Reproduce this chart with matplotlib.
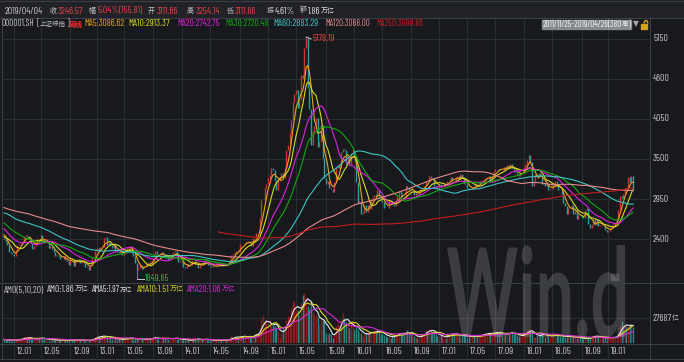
import numpy as np
import pandas as pd
import matplotlib
matplotlib.use("Agg")
import matplotlib.pyplot as plt
from matplotlib.textpath import TextPath
from matplotlib.patches import PathPatch, Rectangle, Arc
from matplotlib.font_manager import FontProperties
from matplotlib.transforms import Affine2D

plt.rcParams["font.family"] = ["Barlow Condensed", "Archivo Narrow", "Noto Sans CJK SC", "DejaVu Sans"]

# weekly closes of 000001.SH before the shown window (only used for the long MAs)
close_pre = [3372, 3412, 3260, 3112, 2960, 2860, 2860, 2999, 3060, 2880, 2779, 2911,
             2977, 3039, 2996, 3164, 3187, 3308, 3096, 3321, 3247, 3114, 3154, 3277,
             3196, 3224, 3128, 2989, 2939, 3018, 3051, 3031, 3013, 3068, 3060, 3155,
             3130, 3130, 3030, 2870, 2688, 2697, 2583, 2656, 2554, 2570, 2514, 2552,
             2382, 2470, 2424, 2572, 2637, 2672, 2607, 2642, 2610, 2655, 2689, 2598,
             2585, 2656, 2738, 2971, 3052, 3054, 3129, 2985, 2888, 2871, 2842, 2835,
             2891, 2835, 2808,
             2839, 2791, 2715, 2752, 2799, 2827, 2899, 2905, 2993, 2937, 2906, 2977,
             2967, 3030, 3050, 2960, 2911, 2864, 2871, 2859, 2709, 2705, 2705, 2642,
             2746, 2759, 2797, 2820, 2777, 2701, 2626, 2593, 2534, 2612, 2528, 2497,
             2482, 2432, 2359, 2431, 2317, 2473, 2528, 2481, 2416]

# weekly closes inside the window 2011/11/25 - 2019/04/26
close_2011 = [2397, 2361, 2315, 2224, 2205, 2199]
close_2012 = [2164, 2245, 2319, 2331, 2351, 2357, 2439, 2461, 2439, 2404, 2349, 2263,
              2302, 2359, 2406, 2396, 2452, 2395, 2344, 2349, 2373, 2281, 2306, 2260,
              2225, 2170, 2185, 2168, 2125, 2132, 2168, 2115, 2092, 2047, 2128, 2123,
              2027, 2086, 2105, 2128, 2066, 2117, 2070, 2015, 2028, 1980, 2033, 2150,
              2153, 2233]
close_2013 = [2276, 2243, 2284, 2291, 2419, 2432, 2314, 2359, 2318, 2278, 2328, 2237,
              2226, 2206, 2245, 2177, 2205, 2246, 2283, 2288, 2301, 2211, 2162, 2073,
              1979, 2007, 2039, 1992, 2010, 2029, 2052, 2086, 2057, 2098, 2140, 2237,
              2191, 2160, 2175, 2228, 2194, 2133, 2149, 2106, 2135, 2197, 2220, 2238,
              2197, 2085, 2101]
close_2014 = [2083, 2013, 2004, 2054, 2033, 2044, 2115, 2113, 2056, 2057, 2004, 2047,
              2046, 2058, 2130, 2098, 2036, 2033, 2011, 2026, 2034, 2039, 2030, 2070,
              2025, 2036, 2059, 2047, 2059, 2127, 2185, 2194, 2226, 2241, 2218, 2326,
              2331, 2329, 2347, 2364, 2375, 2341, 2302, 2420, 2418, 2478, 2487, 2683,
              2938, 2938, 3108, 3157]
close_2015 = [3235, 3286, 3376, 3351, 3210, 3076, 3204, 3247, 3310, 3241, 3373, 3617,
              3691, 3864, 4035, 4287, 4394, 4442, 4205, 4309, 4658, 4611, 5023, 5166,
              4478, 4193, 3687, 3878, 3958, 4070, 3664, 3744, 3965, 3508, 3232, 3160,
              3200, 3097, 3093, 3053, 3183, 3391, 3412, 3383, 3590, 3632, 3630, 3436,
              3525, 3435, 3578, 3628]
close_2016 = [3539, 3186, 2901, 2917, 2738, 2763, 2861, 2767, 2874, 2810, 2955, 2979,
              3010, 2985, 3078, 2960, 2938, 2914, 2828, 2826, 2822, 2939, 2927, 2885,
              2854, 2933, 2989, 3054, 3013, 2979, 2977, 3125, 3108, 3070, 3068, 3079,
              3003, 3033, 3005, 3064, 3091, 3104, 3125, 3197, 3193, 3262, 3244, 3233,
              3123, 3110, 3104]
close_2017 = [3154, 3113, 3123, 3159, 3140, 3197, 3202, 3253, 3218, 3213, 3237, 3269,
              3223, 3287, 3246, 3173, 3155, 3103, 3083, 3091, 3111, 3106, 3158, 3123,
              3158, 3192, 3218, 3222, 3238, 3253, 3263, 3209, 3269, 3332, 3367, 3366,
              3353, 3353, 3349, 3391, 3379, 3417, 3372, 3433, 3382, 3353, 3318, 3290,
              3267, 3297, 3307]
close_2018 = [3392, 3429, 3488, 3558, 3462, 3129, 3199, 3290, 3273, 3308, 3269, 3153,
              3169, 3131, 3160, 3071, 3082, 3091, 3163, 3193, 3142, 3075, 3067, 3022,
              2890, 2847, 2747, 2831, 2829, 2874, 2741, 2795, 2669, 2730, 2725, 2703,
              2682, 2797, 2821, 2606, 2550, 2599, 2676, 2599, 2680, 2580, 2588, 2606,
              2594, 2517, 2494]
close_2019 = [2514, 2554, 2597, 2601, 2618, 2682, 2804, 2994, 2969, 3022, 3104, 3091,
              3247, 3189, 3271, 3086]

# weekly turnover (亿元)
amt_2011 = [3900, 3600, 3100, 3300, 2700, 2600]
amt_2012 = [2800, 3900, 4300, 4200, 4600, 4400, 6200, 6800, 5600, 5900, 4800, 4400,
            3900, 4700, 5600, 5000, 6100, 5300, 4600, 4200, 4100, 3700, 3500, 3300,
            3000, 3300, 3600, 3100, 3200, 3100, 3400, 3200, 2800, 2900, 3700, 3600,
            2900, 3100, 3300, 3500, 3000, 2900, 3000, 2600, 2500, 2900, 3400, 5200,
            5600, 6300]
amt_2013 = [7500, 7800, 7200, 6800, 8600, 7000, 6900, 6000, 5400, 4800, 4600, 5200,
            3200, 4300, 4600, 4400, 2800, 5600, 6100, 5900, 5800, 4800, 3500, 4500,
            5900, 4100, 4600, 4200, 3900, 3900, 4400, 5600, 5200, 4700, 5800, 7600,
            4500, 5600, 1800, 6400, 5900, 5300, 4300, 4200, 4900, 5700, 5400, 5200,
            4800, 4300, 4000]
amt_2014 = [3600, 4000, 3300, 3700, 2900, 1200, 4600, 5200, 4800, 3800, 3900, 3600,
            3900, 3300, 4700, 4200, 3600, 2300, 2700, 3000, 2800, 3000, 2700, 3200,
            3300, 3000, 3300, 3600, 3400, 5200, 7200, 6300, 6800, 6900, 5500, 7500,
            7600, 7700, 8800, 3600, 6200, 8400, 7400, 8200, 9500, 11500, 9800, 16800,
            26500, 30500, 24500, 23000]
amt_2015 = [13500, 25500, 22500, 22000, 18500, 17000, 13500, 5200, 11500, 17000, 18500,
            25500, 29500, 29000, 38500, 46500, 45000, 36500, 36000, 31500, 44500, 53500,
            55000, 50500, 40500, 38000, 46500, 34500, 30500, 31000, 29000, 19500, 26500,
            25500, 24500, 11500, 10500, 11500, 9500, 5500, 8500, 19000, 21500, 17000,
            26500, 33500, 27500, 23500, 20500, 16500, 22000, 23500]
amt_2016 = [14500, 17500, 15000, 12500, 11000, 7500, 9500, 11500, 11000, 10000, 12500,
            13500, 13000, 11500, 14500, 13000, 10000, 9500, 9000, 7500, 6500, 8000, 6000,
            7500, 7500, 9500, 10500, 12500, 11000, 9500, 8500, 12500, 14500, 11000, 9500,
            9500, 7500, 6500, 5500, 7000, 8500, 9500, 10500, 14500, 13500, 15500, 14000,
            12500, 12500, 9500, 7500]
amt_2017 = [7500, 9000, 7500, 6000, 4500, 8500, 10500, 11000, 10000, 9000, 10500, 9500,
            8500, 6500, 9500, 9000, 8500, 5500, 7500, 7000, 7000, 7000, 8000, 7500, 8500,
            8500, 9500, 10000, 11000, 10500, 11500, 10500, 9500, 12500, 12500, 12000,
            11000, 10500, 9500, 8500, 10500, 11000, 10500, 12000, 12500, 9500, 9500, 8500,
            8000, 8000, 8000]
amt_2018 = [9500, 12500, 14500, 15500, 12500, 13500, 6500, 6500, 8500, 10000, 9500,
            10500, 9500, 7000, 9000, 8500, 7500, 6500, 9000, 9500, 8500, 8500, 7500, 7000,
            8000, 7000, 7000, 7000, 6500, 8000, 6500, 6500, 6000, 5500, 5000, 5500, 4500,
            5000, 4500, 6500, 6000, 8000, 9000, 7000, 7500, 6500, 5500, 6500, 5500, 5500,
            4800]
amt_2019 = [6000, 6500, 6700, 5500, 6000, 8500, 12500, 20000, 24500, 18000, 19000,
            18500, 18600, 21500, 20500, 17500]

closed_weeks = ["2012-01-27", "2012-10-05", "2013-02-15", "2016-02-12",
                "2016-10-07", "2017-10-06", "2018-10-05", "2019-02-08"]
peak_date, peak_high = "2015-06-12", 5178.19
trough_date, trough_low = "2013-06-28", 1849.65

ma_periods = [5, 10, 20, 30, 60, 120, 250]
ma_colors = ["#e8a41c", "#d9d923", "#dd22dd", "#12a812", "#3fc4c4", "#e48a8a", "#c41e1e"]
ama_periods = [5, 10, 20]
ama_colors = ["#e6e6e6", "#d8d826", "#d42cd4"]

price_ticks = [2400, 2950, 3500, 4050, 4600, 5150]
amt_tick = 27687

BG = "#17191d"
GRID = "#2a2d33"
LINE = "#3a3d44"
UP, DOWN = "#d23434", "#2e9ea0"
UP_V, DOWN_V = "#8e1c1c", "#2a8486"
TXT = "#c4c4c4"
RED = "#e44444"
FS, FS_CJK = 7.0, 5.0

# ---- series
close_win = (close_2011 + close_2012 + close_2013 + close_2014 + close_2015 +
             close_2016 + close_2017 + close_2018 + close_2019)
amt = np.array(amt_2011 + amt_2012 + amt_2013 + amt_2014 + amt_2015 +
               amt_2016 + amt_2017 + amt_2018 + amt_2019, dtype=float)
n_pre = len(close_pre)
full = pd.Series(close_pre + close_win, dtype=float)
cls = full.values[n_pre:]
opn = full.shift(1).values[n_pre:]
n = len(cls)
x = np.arange(n)
up = cls >= opn

fridays = pd.date_range("2011-11-25", "2019-04-26", freq="W-FRI")
dates = fridays[~fridays.isin(pd.to_datetime(closed_weeks))][:n]

tick_idx, tick_lab = [], []
for yr in range(2012, 2020):
    for mo in (1, 5, 9):
        t = pd.Timestamp(yr, mo, 1)
        if t > dates[-1]:
            break
        tick_idx.append(int(np.searchsorted(dates.values, np.datetime64(t))))
        tick_lab.append(f"{yr % 100:02d}.{mo:02d}")

W, H = 684, 362
fig = plt.figure(figsize=(W / 100, H / 100), dpi=100)
fig.patch.set_facecolor(BG)
renderer = fig.canvas.get_renderer()


def box(x0, y0, x1, y1):
    return [x0 / W, 1 - y1 / H, (x1 - x0) / W, (y1 - y0) / H]


ax = fig.add_axes(box(3, 17, 649, 282))
ax2 = fig.add_axes(box(3, 283, 649, 343))
px_per_bar = 1.66
xlim = (-0.6, -0.6 + 646 / px_per_bar)

for a in (ax, ax2):
    a.set_facecolor(BG)
    a.set_xlim(*xlim)
    for s in a.spines.values():
        s.set_visible(False)
    a.set_xticks(tick_idx)
    a.grid(True, color=GRID, lw=0.8)
    a.set_axisbelow(True)
    a.tick_params(axis="y", length=0, labelleft=False)

ax.tick_params(axis="x", length=0, labelbottom=False)
ax2.tick_params(axis="x", direction="out", length=11, width=0.8, color=GRID, labelbottom=False)

# ---- price panel
ax.set_ylim(1809, 5452)
ax.set_yticks(price_ticks)
ax.vlines(x[up], opn[up], cls[up], color=UP, lw=1.0, zorder=2)
ax.vlines(x[~up], opn[~up], cls[~up], color=DOWN, lw=1.0, zorder=2)

pk = int(np.searchsorted(dates.values, np.datetime64(peak_date)))
tr = int(np.searchsorted(dates.values, np.datetime64(trough_date)))
ax.vlines(pk, max(opn[pk], cls[pk]), peak_high, color=UP if up[pk] else DOWN, lw=0.8, zorder=2)
ax.vlines(tr, trough_low, min(opn[tr], cls[tr]), color=UP if up[tr] else DOWN, lw=0.8, zorder=2)

for p, c in zip(ma_periods, ma_colors):
    ma = full.rolling(p).mean().values[n_pre:]
    ax.plot(x, ma, color=c, lw=0.8, zorder=3)

ax.plot([pk, pk + 3], [peak_high, peak_high - 28], color="#d0d0d0", lw=0.7, zorder=4)
ax.plot([tr, tr + 4.5], [trough_low, trough_low], color="#d0d0d0", lw=0.7, zorder=4)

# ---- turnover panel
ax2.set_ylim(0, 66449)
ax2.set_yticks([amt_tick])
ax2.vlines(x[up], 0, amt[up], color=UP_V, lw=1.0, zorder=2)
ax2.vlines(x[~up], 0, amt[~up], color=DOWN_V, lw=1.0, zorder=2)
amt_s = pd.Series(amt)
for p, c in zip(ama_periods, ama_colors):
    ax2.plot(x, amt_s.rolling(p, min_periods=1).mean(), color=c, lw=0.8, zorder=3)

# ---- overlay in pixel coordinates for header, labels, frame and watermark
ov = fig.add_axes([0, 0, 1, 1])
ov.set_xlim(0, W)
ov.set_ylim(H, 0)
ov.axis("off")


def chain(x0, x1, y, parts, color, **kw):
    # latin / CJK pieces one after another; shrink only if wider than x0..x1
    ts = []
    for s in parts:
        cjk = any(ord(ch) > 0x2e80 for ch in s)
        ts.append(ov.text(x0, y, s, color=color, fontsize=FS_CJK if cjk else FS,
                          va="center", ha="left", **kw))
    w = sum(t.get_window_extent(renderer).width for t in ts)
    k = min(1.0, max(0.8, (x1 - x0 + 1.5) / w))
    xx = x0
    for t in ts:
        t.set_fontsize(t.get_fontsize() * k)
        t.set_x(xx)
        xx += t.get_window_extent(renderer).width
    return ts


ov.add_patch(Rectangle((0, 0), W, 17, color="#202227", zorder=0))
for yy in (0.5, 17.5, 282.5, 343.5, 358.5):
    ov.plot([0, W], [yy, yy], color=LINE, lw=0.8)
ov.plot([1.5, 1.5], [17, 358], color=LINE, lw=0.8)
ov.plot([649.5, 649.5], [17, 358], color=LINE, lw=0.8)
ov.add_patch(Rectangle((611, 274), 7, 6, color="#3a3c42"))

row1 = [(["2019/04/04"], 5, 45, TXT), (["收"], 50, 57, TXT), (["3246.57"], 58, 85, RED),
        (["幅"], 89, 96, TXT), (["5.04%(155.81)"], 98, 143, RED), (["开"], 148, 155, TXT),
        (["3111.66"], 157, 183, RED), (["高"], 187, 194, TXT), (["3254.14"], 196, 222, RED),
        (["低"], 227, 234, TXT), (["3111.66"], 235, 262, RED), (["振"], 267, 274, TXT),
        (["4.61%"], 275, 295, "#dedede"), (["额"], 300, 307, TXT),
        (["1.86", "万亿"], 308, 335, "#dedede")]
for parts, a0, a1, c in row1:
    chain(a0, a1, 11, parts, c)

row2 = [(["000001.SH"], 2, 33, TXT), (["[", "上证综指", "]"], 37, 67, TXT),
        (["MA5:3086.62"], 84, 123, ma_colors[0]), (["MA10:2913.37"], 128, 170, ma_colors[1]),
        (["MA20:2742.75"], 177, 218, ma_colors[2]), (["MA30:2720.48"], 225, 267, ma_colors[3]),
        (["MA60:2883.29"], 273, 317, ma_colors[4]), (["MA120:3068.00"], 325, 368, ma_colors[5]),
        (["MA250:3090.86"], 376, 421, ma_colors[6])]
for parts, a0, a1, c in row2:
    chain(a0, a1, 24, parts, c)
chain(69, 82, 24, ["周线"], "#ff2a2a", fontweight="bold")

ov.add_patch(Rectangle((542, 19.5), 89, 9, color="#868a90"))
chain(543, 629, 24, ["2011/11/25-2019/04/26(380", "周", ")"], "#f4f4f4")
ov.text(633, 24, "▼", color="#a8a8a8", fontsize=5.5, va="center", ha="left", family="DejaVu Sans")
ov.add_patch(Rectangle((641, 24), 6, 5, color="#d8a21e"))
ov.add_patch(Arc((646, 23.5), 3.6, 6, theta1=180, theta2=360, color="#d8a21e", lw=1.0))

row3 = [(["AMO(5,10,20)"], 4, 45, TXT), (["AMO:1.86", "万亿"], 47, 87, "#dcdcdc"),
        (["AMA5:1.97", "万亿"], 92, 131, ama_colors[0]),
        (["AMA10:1.51", "万亿"], 137, 184, ama_colors[1]),
        (["AMA20:1.06", "万亿"], 187, 234, ama_colors[2])]
for parts, a0, a1, c in row3:
    chain(a0, a1, 290, parts, c)

# right-hand value labels
to_px = ov.transData.inverted()
for v in price_ticks:
    yy = to_px.transform(ax.transData.transform((0, v)))[1]
    chain(653, 670, yy, [str(v)], TXT)
yy = to_px.transform(ax2.transData.transform((0, amt_tick)))[1]
chain(653, 679, yy, [str(amt_tick), "亿"], TXT)

# annotations of the extremes
p = to_px.transform(ax.transData.transform((pk + 3.6, peak_high - 28)))
chain(p[0], p[0] + 24, p[1], [f"{peak_high:.2f}"], RED)
p = to_px.transform(ax.transData.transform((tr + 5, trough_low + 10)))
chain(p[0], p[0] + 24, p[1], [f"{trough_low:.2f}"], "#2fb54a")

# month labels under the turnover panel
for i, lab in zip(tick_idx, tick_lab):
    px = to_px.transform(ax2.transData.transform((i, 0)))[0] + 3
    chain(px, px + 19, 351, [lab], TXT)

# watermark
tp = TextPath((0, 0), "Win.d", size=100, prop=FontProperties(family="Lato", weight="bold"))
bb = tp.get_extents()
tf = (Affine2D().translate(-bb.x0, -bb.y0)
      .scale(178 / bb.width, -93 / bb.height).translate(447, 338))
ov.add_patch(PathPatch(tf.transform_path(tp), facecolor="white", edgecolor="none", alpha=0.16))

fig.savefig("out.png", dpi=100, facecolor=BG)
